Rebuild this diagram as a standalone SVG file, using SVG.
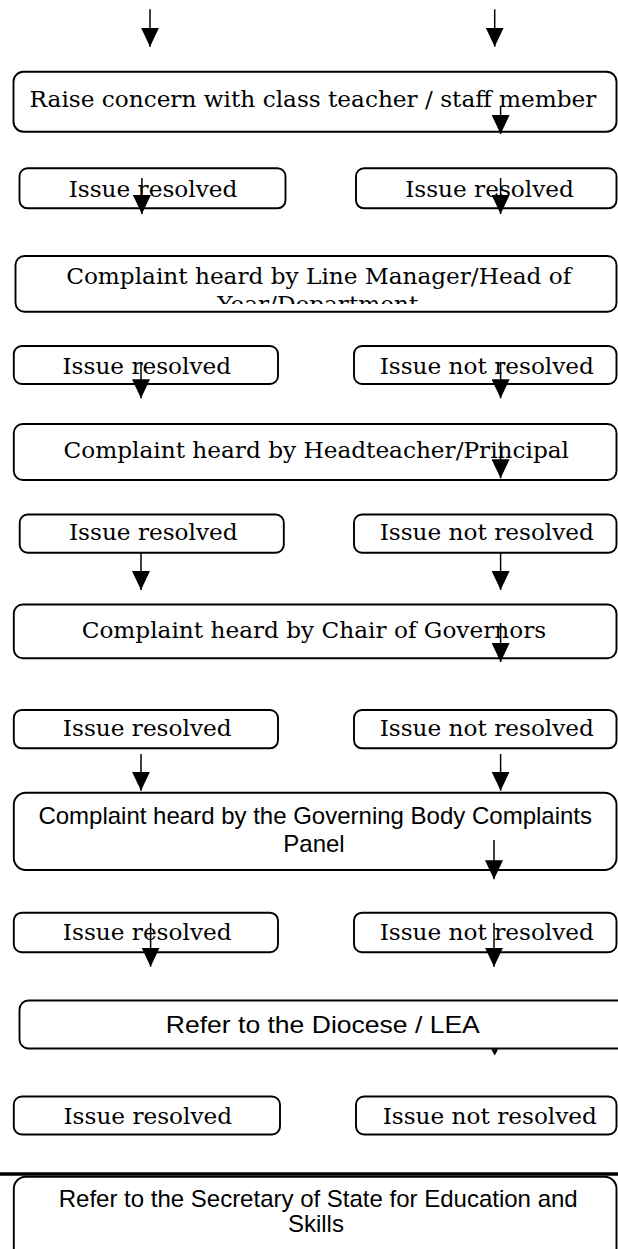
<svg xmlns="http://www.w3.org/2000/svg" width="618" height="1249" viewBox="0 0 618 1249">
  <style>
    .box { fill: #ffffff; stroke: #000000; stroke-width: 1.9; }
    .serif { font-family: "DejaVu Serif", "Liberation Serif", serif; font-size: 23.2px; fill: #000000; text-anchor: middle; }
    .sans { font-family: "Liberation Sans", Arial, sans-serif; font-size: 24px; fill: #000000; text-anchor: middle; }
    .shaft { stroke: #000000; stroke-width: 1.5; fill: none; marker-end: url(#head); }
  </style>
  <defs>
    <marker id="head" viewBox="0 0 19 18" refX="19" refY="9" markerWidth="19" markerHeight="18" markerUnits="userSpaceOnUse" orient="auto">
      <path d="M0,0 L19,9 L0,18 Z" fill="#000000"/>
    </marker>
    <clipPath id="clipLineManager">
      <rect x="15" y="256" width="602" height="48"/>
    </clipPath>
  </defs>
  <rect x="0" y="0" width="618" height="1249" fill="#ffffff"/>

  <g id="raise-concern">
    <rect class="box" x="13.5" y="71.7" width="603" height="60" rx="10"/>
    <text class="serif" x="313" y="106.7">Raise concern with class teacher / staff member</text>
  </g>

  <g id="resolved-1">
    <rect class="box" x="19.5" y="168.3" width="266" height="40" rx="8"/>
    <text class="serif" x="153" y="196.7">Issue resolved</text>
  </g>
  <g id="resolved-1b">
    <rect class="box" x="356" y="168.3" width="260.5" height="40" rx="8"/>
    <text class="serif" x="489.5" y="196.7">Issue resolved</text>
  </g>

  <g id="line-manager">
    <rect class="box" x="15.5" y="256" width="601" height="55.7" rx="9"/>
    <g clip-path="url(#clipLineManager)">
      <text class="serif" x="318.7" y="284.3">Complaint heard by Line Manager/Head of</text>
      <text class="serif" x="317.7" y="311.8">Year/Department</text>
    </g>
  </g>

  <g id="resolved-2">
    <rect class="box" x="13.8" y="346" width="264.2" height="38" rx="8"/>
    <text class="serif" x="146.8" y="374.4">Issue resolved</text>
  </g>
  <g id="not-resolved-2">
    <rect class="box" x="354" y="346" width="262.5" height="38" rx="8"/>
    <text class="serif" x="486.8" y="374.4">Issue not resolved</text>
  </g>

  <g id="headteacher">
    <rect class="box" x="13.8" y="424" width="602.7" height="56" rx="9"/>
    <text class="serif" x="316.3" y="458.3">Complaint heard by Headteacher/Principal</text>
  </g>

  <g id="resolved-3">
    <rect class="box" x="19.7" y="514.5" width="264.1" height="38.2" rx="8"/>
    <text class="serif" x="153.3" y="540">Issue resolved</text>
  </g>
  <g id="not-resolved-3">
    <rect class="box" x="354" y="514.5" width="262.5" height="38.2" rx="8"/>
    <text class="serif" x="486.8" y="540">Issue not resolved</text>
  </g>

  <g id="chair">
    <rect class="box" x="13.8" y="604.5" width="602.7" height="53.8" rx="9"/>
    <text class="serif" x="313.9" y="638.3">Complaint heard by Chair of Governors</text>
  </g>

  <g id="resolved-4">
    <rect class="box" x="13.8" y="710" width="264.2" height="38.3" rx="8"/>
    <text class="serif" x="147.2" y="736">Issue resolved</text>
  </g>
  <g id="not-resolved-4">
    <rect class="box" x="354" y="710" width="262.5" height="38.3" rx="8"/>
    <text class="serif" x="486.8" y="736">Issue not resolved</text>
  </g>

  <g id="governing-body">
    <rect class="box" x="13.8" y="792.7" width="602.7" height="77.3" rx="12"/>
    <text class="sans" x="315.2" y="824.3">Complaint heard by the Governing Body Complaints</text>
    <text class="sans" x="314" y="852.3">Panel</text>
  </g>

  <g id="resolved-5">
    <rect class="box" x="13.8" y="912.7" width="264.2" height="39.5" rx="8"/>
    <text class="serif" x="147.2" y="940">Issue resolved</text>
  </g>
  <g id="not-resolved-5">
    <rect class="box" x="354" y="912.7" width="262.5" height="39.5" rx="8"/>
    <text class="serif" x="486.8" y="940">Issue not resolved</text>
  </g>

  <g id="diocese">
    <rect class="box" x="19.5" y="1000.5" width="610" height="48" rx="9"/>
    <text class="sans" x="322.8" y="1032.7" font-size="24.5" textLength="314" lengthAdjust="spacingAndGlyphs">Refer to the Diocese / LEA</text>
  </g>

  <g id="resolved-6">
    <rect class="box" x="13.8" y="1096.5" width="266.2" height="38" rx="8"/>
    <text class="serif" x="147.8" y="1124">Issue resolved</text>
  </g>
  <g id="not-resolved-6">
    <rect class="box" x="356" y="1096.5" width="260.5" height="38" rx="8"/>
    <text class="serif" x="489.8" y="1124">Issue not resolved</text>
  </g>

  <line x1="0" y1="1174" x2="618" y2="1174" stroke="#000000" stroke-width="3.3"/>

  <g id="secretary-of-state">
    <rect class="box" x="13.8" y="1176.7" width="602.7" height="100" rx="12"/>
    <text class="sans" x="318.2" y="1206.7">Refer to the Secretary of State for Education and</text>
    <text class="sans" x="315.9" y="1231.7">Skills</text>
  </g>

  <g id="connectors">
    <line class="shaft" x1="150" y1="9.3" x2="150" y2="46.7"/>
    <line class="shaft" x1="494.7" y1="9.3" x2="494.7" y2="46.7"/>
    <line class="shaft" x1="500.6" y1="106" x2="500.6" y2="134"/>
    <line class="shaft" x1="141.9" y1="178" x2="141.9" y2="214"/>
    <line class="shaft" x1="500.6" y1="178" x2="500.6" y2="214"/>
    <line class="shaft" x1="141" y1="362" x2="141" y2="398.3"/>
    <line class="shaft" x1="500.6" y1="362" x2="500.6" y2="398.3"/>
    <line class="shaft" x1="500.6" y1="441.7" x2="500.6" y2="478.3"/>
    <line class="shaft" x1="141" y1="552.7" x2="141" y2="590"/>
    <line class="shaft" x1="500.6" y1="552.7" x2="500.6" y2="590"/>
    <line class="shaft" x1="500.6" y1="623" x2="500.6" y2="662"/>
    <line class="shaft" x1="141" y1="754" x2="141" y2="790.7"/>
    <line class="shaft" x1="500.6" y1="754" x2="500.6" y2="790.7"/>
    <line class="shaft" x1="494" y1="840" x2="494" y2="879.3"/>
    <line class="shaft" x1="150.6" y1="923" x2="150.6" y2="966.7"/>
    <line class="shaft" x1="494" y1="923" x2="494" y2="966.7"/>
    <!-- only the tip of this head shows below the Diocese box -->
    <path d="M491.2,1049.3 L498.2,1049.3 L494.7,1055.5 Z" fill="#000000"/>
  </g>
</svg>
